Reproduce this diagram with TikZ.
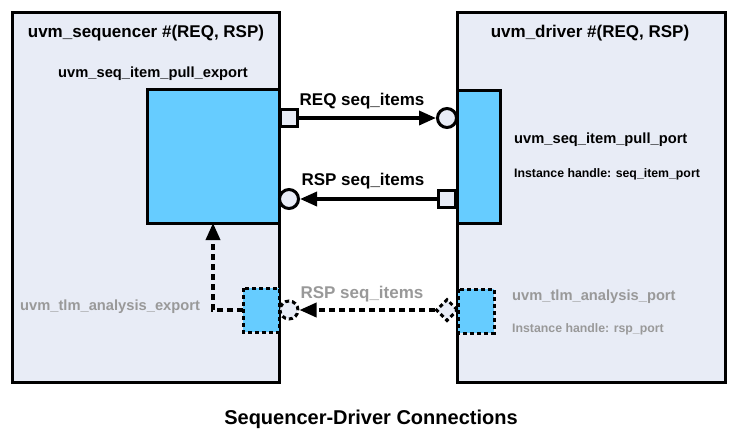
\documentclass[tikz,border=0pt]{standalone}
\usepackage{fontspec}
\setmainfont{Liberation Sans}
\usetikzlibrary{arrows.meta,shapes.geometric}
\definecolor{boxfill}{HTML}{E8ECF6}
\definecolor{blue}{HTML}{66CCFF}
\definecolor{grayt}{HTML}{999999}
\begin{document}
\begin{tikzpicture}[x=1pt,y=-1pt,
  big/.style={draw=black,line width=3pt,fill=boxfill},
  bluebox/.style={draw=black,line width=3pt,fill=blue},
  bluedash/.style={draw=black,line width=3pt,fill=blue,dash pattern=on 4pt off 3pt},
  porthead/.style={draw=black,line width=3pt,fill=boxfill,minimum size=17pt,inner sep=0pt},
  conn/.style={line width=3.5pt,-{Triangle[length=17pt,width=14pt]}},
  dconn/.style={line width=3.5pt,dash pattern=on 6pt off 4pt,-{Triangle[length=17pt,width=14pt]}},
  lbl/.style={font=\bfseries\fontsize{17}{20}\selectfont,inner sep=0pt},
  mid/.style={font=\bfseries\fontsize{14.7}{17}\selectfont,inner sep=0pt},
  sml/.style={font=\bfseries\fontsize{12.3}{14}\selectfont,inner sep=0pt}]
\useasboundingbox (0,0) rectangle (742,432);
% big boxes
\draw[big] (12,12) rectangle (279,382);
\draw[big] (457,12) rectangle (725,382);
% blue boxes
\draw[bluebox] (147,89) rectangle (279,223);
\draw[bluebox] (457,90) rectangle (500,223);
\draw[bluedash] (243,288) rectangle (279,332);
\draw[bluedash] (458,289) rectangle (494,333);
% port heads
\node[porthead,rectangle] (reqsq) at (289,118) {};
\node[porthead,circle,minimum size=19pt] (reqci) at (447,118) {};
\node[porthead,rectangle] (rspsq) at (447,199) {};
\node[porthead,circle,minimum size=19pt] (rspci) at (289,199) {};
\node[porthead,circle,minimum size=18pt,dash pattern=on 4pt off 3pt] (anci) at (289,310) {};
\node[porthead,diamond,minimum size=22pt,dash pattern=on 4pt off 3pt] (andi) at (447,310) {};
\coordinate (exw) at (243,310);
\coordinate (bend) at (213,310);
\coordinate (exbot) at (213,223);
% connectors
\draw[conn] (reqsq.east) -- (reqci.west);
\draw[conn] (rspsq.west) -- (rspci.east);
\draw[dconn] (andi.west) -- (anci.east);
\draw[dconn] (exw) -- (bend) -- (exbot);
% texts
\node[lbl,anchor=base] (t1) at (146,37.5) {uvm\_sequencer \#(REQ, RSP)};
\node[mid,anchor=base] (t2) at (153,77.5) {uvm\_seq\_item\_pull\_export};
\node[lbl,anchor=base] (t3) at (362,105) {REQ seq\_items};
\node[lbl,anchor=base] (t4) at (363,185) {RSP seq\_items};
\node[lbl,anchor=base] (t5) at (590,37.5) {uvm\_driver \#(REQ, RSP)};
\node[mid,anchor=base west] (t6) at (514,143.5) {uvm\_seq\_item\_pull\_port};
\node[sml,anchor=base west] (t7) at (514,177) {Instance handle: seq\_item\_port};
\node[mid,anchor=base west,text=grayt] (t8) at (512,300.5) {uvm\_tlm\_analysis\_port};
\node[sml,anchor=base west,text=grayt] (t9) at (512,332) {Instance handle: rsp\_port};
\node[mid,anchor=base west,text=grayt] (t10) at (20,310.5) {uvm\_tlm\_analysis\_export};
\node[lbl,anchor=base,text=grayt] (t11) at (362,298) {RSP seq\_items};
\node[font=\bfseries\fontsize{20}{24}\selectfont,inner sep=0pt,anchor=base] (t12) at (371,424) {Sequencer-Driver Connections};
\end{tikzpicture}
\end{document}
